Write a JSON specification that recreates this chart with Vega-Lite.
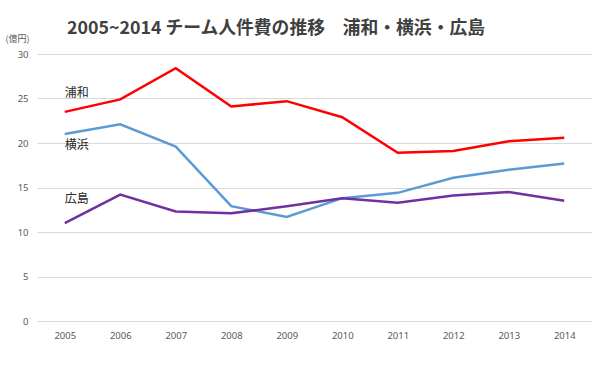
{
  "$schema": "https://vega.github.io/schema/vega-lite/v6.json",
  "width": 555,
  "height": 267,
  "autosize": {"type": "none"},
  "padding": {"left": 37, "top": 54, "right": 8, "bottom": 54},
  "background": "white",
  "title": {
    "text": "2005~2014 チーム人件費の推移　浦和・横浜・広島",
    "anchor": "start",
    "frame": "group",
    "dx": 30,
    "offset": -4,
    "font": "Noto Sans CJK JP",
    "fontSize": 17.8,
    "fontWeight": "bold",
    "color": "#404040"
  },
  "config": {
    "view": {"stroke": null},
    "axis": {
      "labelFont": "Noto Sans",
      "labelFontSize": 9,
      "labelColor": "#595959",
      "domain": false,
      "ticks": false,
      "gridColor": "#d9d9d9",
      "gridWidth": 1
    }
  },
  "datasets": {
    "cost": [
      {"year": "2005", "team": "浦和", "value": 23.5},
      {"year": "2006", "team": "浦和", "value": 24.9},
      {"year": "2007", "team": "浦和", "value": 28.4},
      {"year": "2008", "team": "浦和", "value": 24.1},
      {"year": "2009", "team": "浦和", "value": 24.7},
      {"year": "2010", "team": "浦和", "value": 22.9},
      {"year": "2011", "team": "浦和", "value": 18.9},
      {"year": "2012", "team": "浦和", "value": 19.1},
      {"year": "2013", "team": "浦和", "value": 20.2},
      {"year": "2014", "team": "浦和", "value": 20.6},
      {"year": "2005", "team": "横浜", "value": 21.0},
      {"year": "2006", "team": "横浜", "value": 22.1},
      {"year": "2007", "team": "横浜", "value": 19.6},
      {"year": "2008", "team": "横浜", "value": 12.9},
      {"year": "2009", "team": "横浜", "value": 11.7},
      {"year": "2010", "team": "横浜", "value": 13.8},
      {"year": "2011", "team": "横浜", "value": 14.4},
      {"year": "2012", "team": "横浜", "value": 16.1},
      {"year": "2013", "team": "横浜", "value": 17.0},
      {"year": "2014", "team": "横浜", "value": 17.7},
      {"year": "2005", "team": "広島", "value": 11.0},
      {"year": "2006", "team": "広島", "value": 14.2},
      {"year": "2007", "team": "広島", "value": 12.3},
      {"year": "2008", "team": "広島", "value": 12.1},
      {"year": "2009", "team": "広島", "value": 12.9},
      {"year": "2010", "team": "広島", "value": 13.8},
      {"year": "2011", "team": "広島", "value": 13.3},
      {"year": "2012", "team": "広島", "value": 14.1},
      {"year": "2013", "team": "広島", "value": 14.5},
      {"year": "2014", "team": "広島", "value": 13.5}
    ],
    "labels": [
      {"year": "2005", "team": "浦和", "value": 25.6},
      {"year": "2005", "team": "横浜", "value": 19.8},
      {"year": "2005", "team": "広島", "value": 13.7}
    ]
  },
  "layer": [
    {
      "data": {"name": "cost"},
      "mark": {"type": "line", "strokeWidth": 2.5},
      "encoding": {
        "x": {
          "field": "year",
          "type": "ordinal",
          "scale": {"type": "point", "padding": 0.5},
          "axis": {"title": null, "labelAngle": 0, "labelPadding": 9, "labelFontSize": 9.5, "grid": false}
        },
        "y": {
          "field": "value",
          "type": "quantitative",
          "scale": {"domain": [0, 30]},
          "axis": {
            "values": [0, 5, 10, 15, 20, 25, 30],
            "labelPadding": 9,
            "labelFontSize": 9.5,
            "title": "(億円)",
            "titleAngle": 0,
            "titleX": -32,
            "titleY": -16,
            "titleAlign": "left",
            "titleBaseline": "middle",
            "titleFont": "Noto Sans CJK JP",
            "titleFontSize": 9,
            "titleFontWeight": "normal",
            "titleColor": "#595959"
          }
        },
        "color": {
          "field": "team",
          "type": "nominal",
          "scale": {"domain": ["浦和", "横浜", "広島"], "range": ["#FF0000", "#5B9BD5", "#7030A0"]},
          "legend": null
        },
        "detail": {"field": "team"}
      }
    },
    {
      "data": {"name": "labels"},
      "mark": {
        "type": "text",
        "align": "left",
        "baseline": "middle",
        "font": "Noto Sans CJK JP",
        "fontSize": 12,
        "color": "#262626"
      },
      "encoding": {
        "x": {"field": "year", "type": "ordinal"},
        "y": {"field": "value", "type": "quantitative"},
        "text": {"field": "team"}
      }
    }
  ]
}
